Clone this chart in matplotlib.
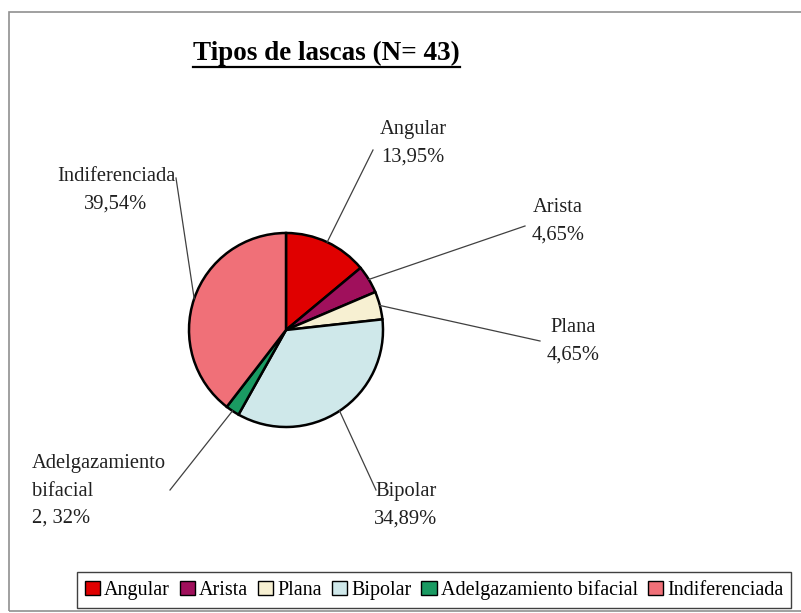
"""
Pie chart of flake types (Tipos de lascas, N = 43).
"""

import numpy as np
import matplotlib.pyplot as plt
from matplotlib.patches import Patch, Rectangle

# data
categories = ['Angular', 'Arista', 'Plana', 'Bipolar',
              'Adelgazamiento bifacial', 'Indiferenciada']
percentages = [13.95, 4.65, 4.65, 34.89, 2.32, 39.54]
value_labels = ['Angular\n13,95%', 'Arista\n4,65%', 'Plana\n4,65%',
                'Bipolar\n34,89%', 'Adelgazamiento\nbifacial\n2, 32%',
                'Indiferenciada\n39,54%']
colors = ['#e00000', '#a0105c', '#f7f0d2', '#cfe8ea', '#1a9a62', '#f07078']

W, H = 801, 613
plt.rcParams['font.family'] = ['Liberation Serif', 'DejaVu Serif']

fig = plt.figure(figsize=(W / 100, H / 100), dpi=100)
ax = fig.add_axes([0, 0, 1, 1])

# outer chart frame
ax.add_patch(Rectangle((9, 2), W, H - 14, fill=False, ec='#909090', lw=1.2))

cx, cy, r = 286, H - 330, 97
wedges, _ = ax.pie(percentages, colors=colors, startangle=90, counterclock=False,
                   center=(cx, cy), radius=r, frame=True,
                   wedgeprops=dict(edgecolor='black', linewidth=1.8))
ax.set_xlim(0, W)
ax.set_ylim(0, H)
ax.axis('off')

# label text anchors (pixel coords, y from top), line ends, alignment
label_pos = [(413, 143), (558, 221), (573, 341), (406, 505), (32, 491), (116, 190)]
line_end = [(373, 150), (525, 226), (540, 341), (376, 490), (170, 490), (176, 178)]
ha = ['center', 'center', 'center', 'center', 'left', 'center']

for w, txt, pos, le, a in zip(wedges, value_labels, label_pos, line_end, ha):
    ang = np.deg2rad((w.theta1 + w.theta2) / 2)
    sx, sy = cx + r * np.cos(ang), cy + r * np.sin(ang)
    ax.plot([sx, le[0]], [sy, H - le[1]], color='#404040', lw=0.9)
    ax.text(pos[0], H - pos[1], txt, ha=a, va='center', fontsize=14.8,
            linespacing=1.6, color='#202020')

# title with underline
ax.text(326, H - 53, 'Tipos de lascas (N= 43)', ha='center', va='center',
        fontsize=19.5, fontweight='bold')
ax.plot([193, 460], [H - 67, H - 67], color='black', lw=1.6)

handles = [Patch(facecolor=c, edgecolor='black', lw=1) for c in colors]
leg = fig.legend(handles, categories, loc='center', ncol=6,
                 bbox_to_anchor=(434 / W, 1 - 590 / H), fontsize=14.5,
                 handlelength=0.75, handleheight=0.75, handletextpad=0.2,
                 columnspacing=0.5, borderpad=0.4, fancybox=False,
                 framealpha=1)
leg.get_frame().set_edgecolor('#404040')
leg.get_frame().set_linewidth(1)

plt.savefig('out.png')
